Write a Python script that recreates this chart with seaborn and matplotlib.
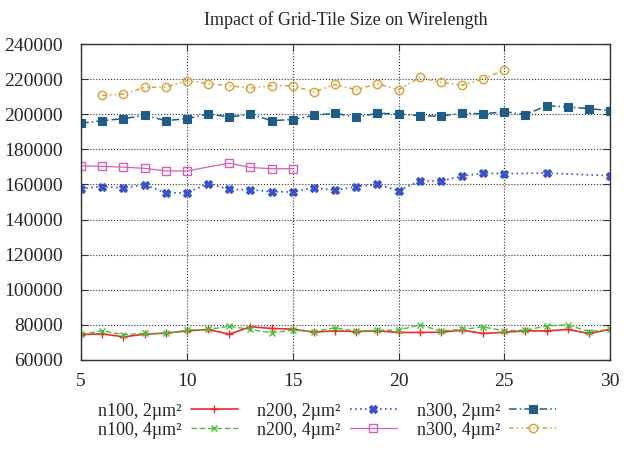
import matplotlib
matplotlib.use("Agg")
import matplotlib.pyplot as plt
import seaborn as sns
import numpy as np

# tile size on x, wirelength on y
x_all = list(range(5, 31))

n100_2 = [74500, 74900, 73200, 74700, 75300, 76600, 77400, 74700, 78900, 78000, 77600, 75900, 76600,
          76200, 76600, 75700, 75700, 75800, 77000, 75100, 75800, 76600, 76600, 77400, 75100, 77400]
n100_4 = [74700, 76600, 74500, 75100, 75100, 77000, 77400, 79200, 77400, 75500, 77000, 76200, 78300,
          76400, 77000, 77000, 80000, 76600, 77400, 78900, 76600, 77000, 79400, 80000, 76200, 77400]

x_n200_2 = list(range(5, 26)) + [27, 30]
n200_2 = [157600, 158800, 158000, 159900, 155200, 155300, 160500, 157200, 157000, 155900, 155700,
          158200, 156700, 158800, 160100, 156400, 162000, 162000, 164700, 166500, 166200, 166500, 165000]

x_n200_4 = [5, 6, 7, 8, 9, 10, 12, 13, 14, 15]
n200_4 = [170700, 170300, 169900, 169200, 167700, 167700, 172200, 169700, 169000, 169000]

n300_2 = [194900, 196400, 197500, 199400, 196400, 197500, 200200, 198500, 200000, 196400, 197000,
          199400, 200600, 198300, 200600, 200200, 199200, 198900, 200800, 200200, 201500, 199800,
          204900, 204200, 203200, 202100]

x_n300_4 = list(range(6, 26))
n300_4 = [210800, 211500, 215300, 215500, 219100, 217400, 216300, 214900, 216300, 216300, 212700,
          217000, 214000, 217400, 214000, 221000, 218200, 216600, 220200, 225200]

sns.set_style("ticks")
plt.rcParams['font.family'] = ['Liberation Serif', 'DejaVu Serif']

fig, ax = plt.subplots(figsize=(6.29, 4.5), dpi=100)
fig.subplots_adjust(left=0.129, right=0.970, bottom=0.2, top=0.902)

sns.lineplot(x=x_all, y=n100_2, ax=ax, color='#ee2a2a', linestyle='-', lw=1.2,
             marker='+', markersize=6, markeredgecolor='#ee2a2a', markeredgewidth=1,
             label='n100, 2µm²')
sns.lineplot(x=x_all, y=n100_4, ax=ax, color='#44c03a', linestyle=(0, (4, 2)), lw=1.0,
             marker='x', markersize=5, markeredgecolor='#44c03a', markeredgewidth=1,
             label='n100, 4µm²')
sns.lineplot(x=x_n200_2, y=n200_2, ax=ax, color='#3a52c8', linestyle=(0, (1, 2)), lw=1.2,
             marker='X', markersize=6, markeredgecolor='#3a52c8', markeredgewidth=0.8,
             label='n200, 2µm²')
sns.lineplot(x=x_n200_4, y=n200_4, ax=ax, color='#d25fb8', linestyle='-', lw=0.9,
             marker='s', markersize=6, markerfacecolor='none', markeredgecolor='#d25fb8',
             markeredgewidth=1, label='n200, 4µm²')
sns.lineplot(x=x_all, y=n300_2, ax=ax, color='#1f5c88', linestyle=(0, (5, 2, 1, 2)), lw=1.1,
             marker='s', markersize=5.5, markeredgecolor='#1f5c88', markeredgewidth=0.8,
             label='n300, 2µm²')
sns.lineplot(x=x_n300_4, y=n300_4, ax=ax, color='#d6a034', linestyle=(0, (3, 2, 1, 2, 1, 2)), lw=1.1,
             marker='o', markersize=6, markerfacecolor='none', markeredgecolor='#d6a034',
             markeredgewidth=1, label='n300, 4µm²')

ax.set_xlim(5, 30)
ax.set_ylim(60000, 240000)
ax.set_xticks(np.arange(5, 31, 5))
ax.set_yticks(np.arange(60000, 240001, 20000))
ax.grid(True, linestyle=':', color='#333333', linewidth=0.8)
ax.tick_params(direction='in', top=True, right=True, labelsize=14, length=5, color='#333333')
ax.tick_params(axis='y', pad=13)
ax.tick_params(axis='x', pad=9)
for s in ax.spines.values():
    s.set_color('#333333')
    s.set_linewidth(1.0)
ax.set_xlabel('')
ax.set_ylabel('')
ax.set_title('Impact of Grid-Tile Size on Wirelength', fontsize=13, pad=14)

handles, labels = ax.get_legend_handles_labels()
ax.get_legend().remove()
fig.legend(handles, labels, ncol=3, loc='upper center', bbox_to_anchor=(0.52, 0.141),
           frameon=False, markerfirst=False, fontsize=13, handlelength=2.6,
           handletextpad=0.5, columnspacing=1.1, labelspacing=0.1)

fig.savefig('out.png', dpi=100)
